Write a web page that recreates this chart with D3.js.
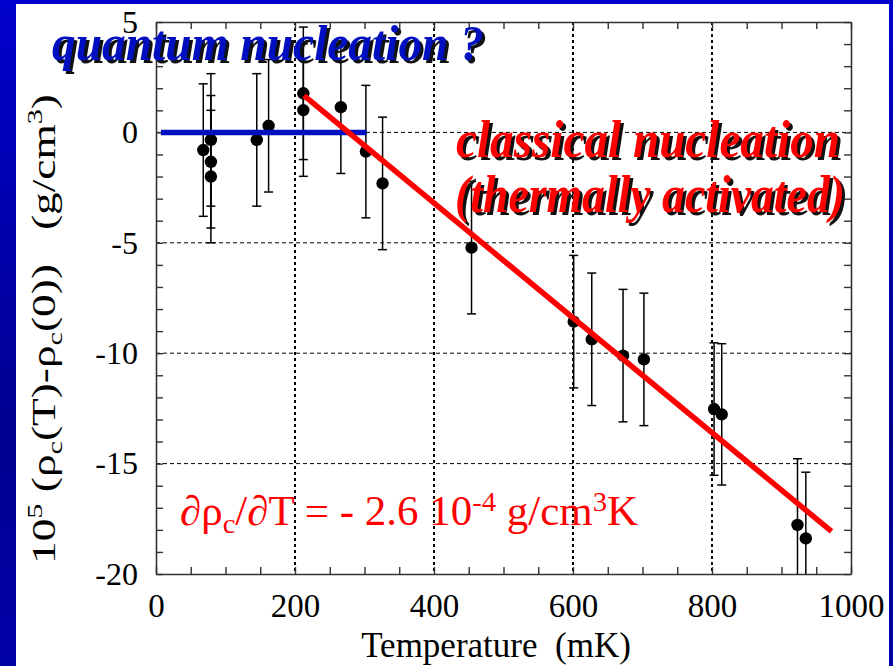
<!DOCTYPE html>
<html><head><meta charset="utf-8">
<script src="https://cdn.jsdelivr.net/npm/d3@7"></script>
<style>
html,body{margin:0;padding:0;background:#fff;}
svg{display:block;}
</style>
</head><body>
<svg id="chart" width="893" height="666"></svg>
<script>
// Critical density shift of the nucleation threshold vs temperature
const temperatureMK = [68, 79, 79, 79, 145, 162, 212, 212, 266, 302, 326, 454, 601, 627, 672, 702, 803, 814, 923, 935];
const densityShift  = [-0.80, -0.34, -1.33, -2.00, -0.34, 0.30, 1.77, 1.01, 1.14, -0.87, -2.31, -5.22, -8.57, -9.37, -10.11, -10.28, -12.53, -12.77, -17.78, -18.39];
const densityError  = [3.0, 3.0, 3.0, 3.0, 3.0, 3.0, 3.0, 3.0, 3.0, 3.0, 3.0, 3.0, 3.0, 3.0, 3.0, 3.0, 3.0, 3.2, 3.0, 3.0];

// Fits: constant below ~300 mK, linear (thermally activated) above
const quantumFitRange = [7, 303];
const quantumFitLevel = 0;
const classicalFitRange = [213, 972];
const classicalSlope = -0.026;      // 1e-5 g/cm3 per mK  = -2.6e-4 g/cm3 K
const classicalIntercept = 7.2;

const xTickValues = [0, 200, 400, 600, 800, 1000];
const yTickValues = [5, 0, -5, -10, -15, -20];
const xGridValues = [200, 400, 600, 800];
const yGridValues = [0, -5, -10, -15];

const svg = d3.select("#chart");
const W = 893, H = 666;
const serif = "'Liberation Serif','Times New Roman',serif";

// slide background
const defs = svg.append("defs");
const bg = defs.append("linearGradient").attr("id", "slideBg").attr("x1", 0).attr("y1", 0).attr("x2", 0).attr("y2", 1);
bg.append("stop").attr("offset", "0%").attr("stop-color", "#0000cc");
bg.append("stop").attr("offset", "65%").attr("stop-color", "#000090");
bg.append("stop").attr("offset", "100%").attr("stop-color", "#0000a8");
svg.append("rect").attr("width", W).attr("height", H).attr("fill", "url(#slideBg)");
svg.append("rect").attr("x", 16).attr("y", 4).attr("width", 873).attr("height", H - 4).attr("fill", "#fff");

const plot = {left: 156, right: 851, top: 22, bottom: 574};
const x = d3.scaleLinear().domain([0, 1000]).range([plot.left, plot.right]);
const y = d3.scaleLinear().domain([-20, 5]).range([plot.bottom, plot.top]);

defs.append("clipPath").attr("id", "plotClip").append("rect")
  .attr("x", plot.left).attr("y", plot.top)
  .attr("width", plot.right - plot.left).attr("height", plot.bottom - plot.top);

// grid
svg.append("g").selectAll("line").data(yGridValues).join("line")
  .attr("x1", plot.left).attr("x2", plot.right)
  .attr("y1", d => y(d)).attr("y2", d => y(d))
  .attr("stroke", "#000").attr("stroke-width", 1).attr("stroke-dasharray", "4,3");
svg.append("g").selectAll("line").data(xGridValues).join("line")
  .attr("x1", d => x(d)).attr("x2", d => x(d))
  .attr("y1", plot.top).attr("y2", plot.bottom)
  .attr("stroke", "#000").attr("stroke-width", 2).attr("stroke-dasharray", "3,3");

// axes with inward ticks
const axisColor = "#333";
const xMinor = d3.range(0, 1001, 50);
const yMinor = d3.range(-20, 6, 1);
function styleAxis(g) {
  g.select(".domain").attr("stroke", axisColor).attr("stroke-width", 1.6);
  g.selectAll(".tick line").attr("stroke", axisColor).attr("stroke-width", 1.4);
  g.selectAll("text").attr("fill", "#000").attr("font-family", serif);
}
svg.append("g").attr("transform", `translate(0,${plot.bottom})`)
  .call(d3.axisBottom(x).tickValues(xMinor).tickSizeInner(-7).tickSizeOuter(0).tickPadding(20)
    .tickFormat(d => xTickValues.includes(d) ? String(d) : ""))
  .call(styleAxis)
  .selectAll("text").attr("font-size", 33);
svg.append("g").attr("transform", `translate(0,${plot.top})`)
  .call(d3.axisTop(x).tickValues(xMinor).tickSizeInner(-7).tickSizeOuter(0).tickFormat(""))
  .call(styleAxis);
svg.append("g").attr("transform", `translate(${plot.left},0)`)
  .call(d3.axisLeft(y).tickValues(yMinor).tickSizeInner(-7).tickSizeOuter(0).tickPadding(18)
    .tickFormat(d => yTickValues.includes(d) ? String(d) : ""))
  .call(styleAxis)
  .selectAll("text").attr("font-size", 32);
svg.append("g").attr("transform", `translate(${plot.right},0)`)
  .call(d3.axisRight(y).tickValues(yMinor).tickSizeInner(-7).tickSizeOuter(0).tickFormat(""))
  .call(styleAxis);

// error bars and points
const pts = temperatureMK.map((t, i) => ({t, v: densityShift[i], e: densityError[i]}));
const eb = svg.append("g").attr("clip-path", "url(#plotClip)").attr("stroke", "#000").attr("stroke-width", 1.5);
eb.selectAll("line.bar").data(pts).join("line").attr("class", "bar")
  .attr("x1", d => x(d.t)).attr("x2", d => x(d.t))
  .attr("y1", d => y(d.v + d.e)).attr("y2", d => y(d.v - d.e));
eb.selectAll("line.capHi").data(pts).join("line").attr("class", "capHi")
  .attr("x1", d => x(d.t) - 4.5).attr("x2", d => x(d.t) + 4.5)
  .attr("y1", d => y(d.v + d.e)).attr("y2", d => y(d.v + d.e));
eb.selectAll("line.capLo").data(pts).join("line").attr("class", "capLo")
  .attr("x1", d => x(d.t) - 4.5).attr("x2", d => x(d.t) + 4.5)
  .attr("y1", d => y(d.v - d.e)).attr("y2", d => y(d.v - d.e));

svg.append("g").selectAll("circle").data(pts).join("circle")
  .attr("cx", d => x(d.t)).attr("cy", d => y(d.v)).attr("r", 6.2).attr("fill", "#000");

// fits
const line = d3.line().x(d => x(d[0])).y(d => y(d[1]));
svg.append("path")
  .datum(quantumFitRange.map(t => [t, quantumFitLevel]))
  .attr("d", line).attr("stroke", "#0010c0").attr("stroke-width", 5.5).attr("fill", "none");
svg.append("path")
  .datum(classicalFitRange.map(t => [t, classicalIntercept + classicalSlope * t]))
  .attr("d", line).attr("stroke", "#ff0000").attr("stroke-width", 5.5).attr("fill", "none");

// annotations with drop shadow
function shadowText(tx, ty, str, color, size, len) {
  const g = svg.append("g").attr("font-family", serif).attr("font-weight", "bold")
    .attr("font-style", "italic").attr("font-size", size);
  [["#111", 3], [color, 0]].forEach(([c, o]) => {
    g.append("text").attr("x", tx + o).attr("y", ty + o).attr("fill", c)
      .attr("textLength", len).attr("lengthAdjust", "spacingAndGlyphs").text(str);
  });
}
shadowText(52, 60, "quantum nucleation ?", "#0010c0", 50, 432);
shadowText(456, 157, "classical nucleation", "#ff0000", 52, 384);
shadowText(455, 212, "(thermally activated)", "#ff0000", 52, 390);

// slope label
const slope = svg.append("text").attr("x", 180).attr("y", 525)
  .attr("font-family", serif).attr("font-size", 42).attr("fill", "#ff0000")
  .attr("textLength", 458).attr("lengthAdjust", "spacingAndGlyphs");
slope.append("tspan").text("\u2202\u03c1");
slope.append("tspan").attr("font-size", 28).attr("dy", 8).text("c");
slope.append("tspan").attr("dy", -8).text("/\u2202T = - 2.6 10");
slope.append("tspan").attr("font-size", 28).attr("dy", -14).text("-4");
slope.append("tspan").attr("dy", 14).text(" g/cm");
slope.append("tspan").attr("font-size", 28).attr("dy", -14).text("3");
slope.append("tspan").attr("dy", 14).text("K");

// axis titles
svg.append("text").attr("x", 496).attr("y", 657).attr("text-anchor", "middle")
  .attr("font-family", serif).attr("font-size", 35).attr("fill", "#000")
  .text("Temperature\u00a0\u00a0(mK)");

const yt = svg.append("text").attr("transform", "translate(55,329) rotate(-90)")
  .attr("text-anchor", "middle").attr("font-family", serif).attr("font-size", 33).attr("fill", "#000")
  .attr("textLength", 470).attr("lengthAdjust", "spacingAndGlyphs");
yt.append("tspan").text("10");
yt.append("tspan").attr("font-size", 22).attr("dy", -13).text("5");
yt.append("tspan").attr("dy", 13).text("\u00a0(\u03c1");
yt.append("tspan").attr("font-size", 22).attr("dy", 7).text("c");
yt.append("tspan").attr("dy", -7).text("(T)-\u03c1");
yt.append("tspan").attr("font-size", 22).attr("dy", 7).text("c");
yt.append("tspan").attr("dy", -7).text("(0))\u00a0\u00a0\u00a0(g/cm");
yt.append("tspan").attr("font-size", 22).attr("dy", -13).text("3");
yt.append("tspan").attr("dy", 13).text(")");
</script>
</body></html>
